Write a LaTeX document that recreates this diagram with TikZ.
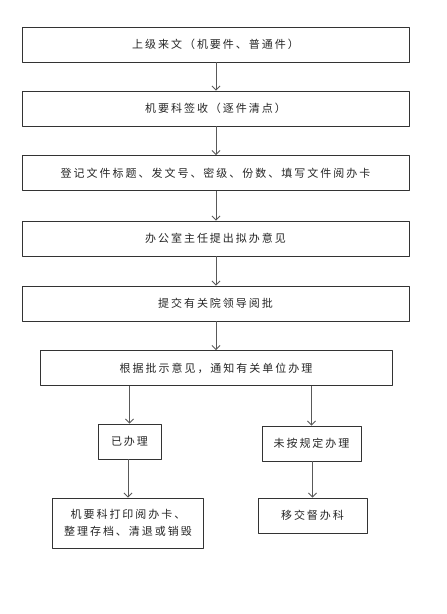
\documentclass[tikz,border=0pt]{standalone}
\usepackage{fontspec}
\newfontfamily\cjk[LetterSpace=18]{Noto Sans CJK SC}
\usetikzlibrary{arrows.meta}

\tikzset{
  stepbox/.style={draw=black!80, line width=0.9pt, fill=white, inner sep=0pt,
    minimum height=35pt, font=\cjk\fontsize{11}{17}\selectfont, text=black!85, align=center},
  flow/.style={draw=black!65, line width=0.9pt, -{Straight Barb[length=4pt,width=8pt]}}
}

\begin{document}
\begin{tikzpicture}[x=1pt, y=-1pt, line join=round]
  \useasboundingbox (0,0) rectangle (447,614);
  \node[stepbox, minimum width=387pt] (n1) at (215.5,44.5) {上级来文（机要件、普通件）};
  \node[stepbox, minimum width=387pt] (n2) at (215.5,108.5) {机要科签收（逐件清点）};
  \node[stepbox, minimum width=387pt] (n3) at (215.5,173.0) {登记文件标题、发文号、密级、份数、填写文件阅办卡};
  \node[stepbox, minimum width=387pt] (n4) at (215.5,238.5) {办公室主任提出拟办意见};
  \node[stepbox, minimum width=387pt] (n5) at (215.5,303.5) {提交有关院领导阅批};
  \node[stepbox, minimum width=352pt] (n6) at (216.0,368.0) {根据批示意见，通知有关单位办理};
  \node[stepbox, minimum width=63pt] (n7) at (129.5,441.5) {已办理};
  \node[stepbox, minimum width=99pt] (n8) at (311.5,443.5) {未按规定办理};
  \node[stepbox, minimum width=151pt, minimum height=50pt] (n9) at (128.0,523.0) {机要科打印阅办卡、\\整理存档、清退或销毁};
  \node[stepbox, minimum width=109pt] (n10) at (312.5,515.5) {移交督办科};
  \draw[flow] (n1.south -| 216,0) -- (n2.north -| 216,0);
  \draw[flow] (n2.south -| 216,0) -- (n3.north -| 216,0);
  \draw[flow] (n3.south -| 216,0) -- (n4.north -| 216,0);
  \draw[flow] (n4.south -| 216,0) -- (n5.north -| 216,0);
  \draw[flow] (n5.south -| 216,0) -- (n6.north -| 216,0);
  \draw[flow] (n6.south -| n7) -- (n7.north);
  \draw[flow] (n6.south -| n8) -- (n8.north);
  \draw[flow] (n7.south -| n9) -- (n9.north);
  \draw[flow] (n8.south -| n10) -- (n10.north);
\end{tikzpicture}
\end{document}
